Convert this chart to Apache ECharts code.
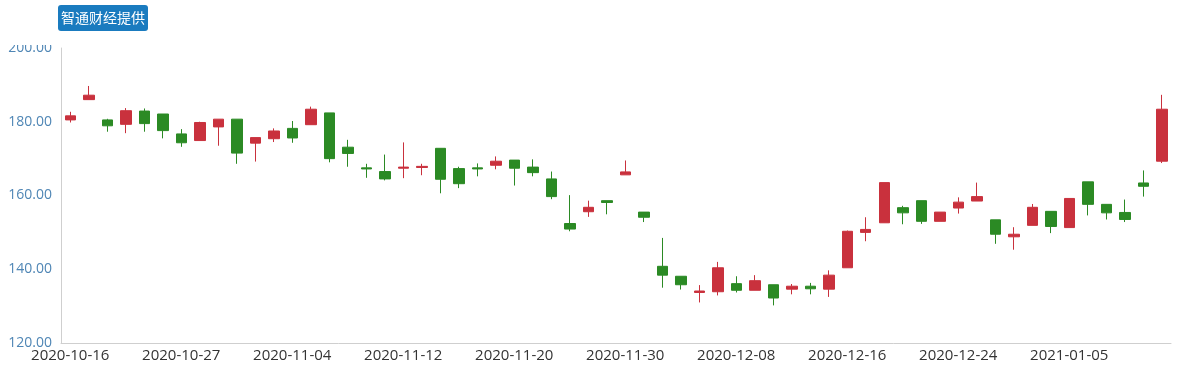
<!DOCTYPE html>
<html>
<head>
<meta charset="utf-8">
<script src="https://cdn.jsdelivr.net/npm/echarts@6/dist/echarts.min.js"></script>
<style>
html,body{margin:0;padding:0;background:#fff;}
#main{width:1183px;height:374px;}
</style>
</head>
<body>
<div id="main"></div>
<script>
var dates = ['2020-10-16','2020-10-19','2020-10-20','2020-10-21','2020-10-22','2020-10-23','2020-10-27','2020-10-28','2020-10-29','2020-10-30',
'2020-11-02','2020-11-03','2020-11-04','2020-11-05','2020-11-06','2020-11-09','2020-11-10','2020-11-11','2020-11-12','2020-11-13',
'2020-11-16','2020-11-17','2020-11-18','2020-11-19','2020-11-20','2020-11-23','2020-11-24','2020-11-25','2020-11-26','2020-11-27',
'2020-11-30','2020-12-01','2020-12-02','2020-12-03','2020-12-04','2020-12-07','2020-12-08','2020-12-09','2020-12-10','2020-12-11',
'2020-12-14','2020-12-15','2020-12-16','2020-12-17','2020-12-18','2020-12-21','2020-12-22','2020-12-23','2020-12-24','2020-12-28',
'2020-12-29','2020-12-30','2020-12-31','2021-01-04','2021-01-05','2021-01-06','2021-01-07','2021-01-08','2021-01-11','2021-01-12'];

var opens  = [180.5,186.0,180.5,179.3,182.9,182.1,176.7,174.9,178.6,180.7,
              174.2,175.4,178.2,179.2,182.4,173.1,167.5,166.5,167.4,167.6,
              172.8,167.3,167.5,168.2,169.6,167.7,164.5,152.4,155.6,158.6,
              165.6,155.5,140.8,138.1,133.7,133.9,136.1,134.3,135.8,134.6,
              135.4,134.6,140.4,150.0,152.6,156.7,158.6,153.0,156.6,158.5,
              153.4,148.8,151.9,155.7,151.3,163.7,157.6,155.4,163.4,169.3];
var closes = [181.6,187.2,178.9,183.0,179.5,177.6,174.3,179.8,180.7,171.5,
              175.7,177.5,175.6,183.4,170.0,171.4,167.2,164.5,167.7,167.9,
              164.4,163.2,167.2,169.3,167.4,166.2,159.7,150.9,156.8,158.1,
              166.4,154.1,138.4,135.8,134.1,140.4,134.3,136.9,132.2,135.4,
              134.7,138.4,150.3,150.8,163.5,155.3,153.0,155.5,158.2,159.7,
              149.5,149.5,156.8,151.6,159.2,157.6,155.3,153.5,162.5,183.4];
var lows   = [179.8,186.0,177.3,176.9,177.3,175.5,173.2,174.9,173.5,168.6,
              169.2,174.5,174.3,179.2,169.0,167.8,164.8,164.1,164.7,165.5,
              160.6,162.0,165.2,167.1,162.7,165.2,159.0,150.3,154.2,154.9,
              165.6,152.8,135.0,134.5,131.0,132.9,133.7,134.3,130.2,133.2,
              133.2,132.5,140.4,147.6,152.6,152.2,152.3,153.0,155.1,158.5,
              146.9,145.3,151.9,149.8,151.3,154.6,153.5,152.8,159.7,168.8];
var highs  = [182.7,189.7,180.8,183.7,183.6,182.1,178.0,180.0,180.7,180.7,
              175.7,178.2,180.2,184.1,182.4,175.1,168.6,171.1,174.4,168.6,
              172.8,167.8,168.7,170.6,169.6,169.8,166.5,160.1,158.6,158.6,
              169.5,155.5,148.5,138.1,135.7,142.0,138.1,138.4,135.8,136.0,
              136.3,139.7,150.5,154.1,163.5,157.2,158.6,155.5,159.5,163.5,
              153.4,151.4,157.7,155.7,159.2,163.7,157.6,158.9,166.8,187.3];

var yTicks = [120, 140, 160, 180, 200];
var badgeText = '智通财经提供';

var kData = dates.map(function (d, i) {
  return [opens[i], closes[i], lows[i], highs[i]];
});

var chart = echarts.init(document.getElementById('main'), null, {renderer: 'canvas'});
chart.setOption({
  animation: false,
  backgroundColor: '#fff',
  grid: {left: 61, right: 12, top: 48, bottom: 31, containLabel: false},
  xAxis: {
    type: 'category',
    data: dates,
    boundaryGap: true,
    axisLine: {show: true, lineStyle: {color: '#cfcfcf', width: 1}},
    axisTick: {show: false},
    splitLine: {show: false},
    axisLabel: {
      interval: 5,
      color: '#333',
      fontSize: 15,
      fontFamily: 'Open Sans',
      margin: 5
    }
  },
  yAxis: {
    type: 'value',
    min: yTicks[0],
    max: yTicks[yTicks.length - 1],
    interval: 20,
    scale: false,
    axisLine: {show: true, lineStyle: {color: '#cfcfcf', width: 1}},
    axisTick: {show: false},
    splitLine: {show: false},
    axisLabel: {
      color: '#4f86b5',
      fontSize: 14,
      fontFamily: 'Open Sans',
      margin: 9,
      formatter: function (v) { return v.toFixed(2); }
    }
  },
  series: [{
    type: 'candlestick',
    data: kData,
    barWidth: 11,
    itemStyle: {
      color: '#c9313d',
      color0: '#2b8a24',
      borderColor: '#c9313d',
      borderColor0: '#2b8a24',
      borderWidth: 1
    }
  }],
  graphic: [
    {
      type: 'rect',
      z: 100,
      shape: {x: 0, y: 0, width: 58, height: 45},
      style: {fill: '#fff'}
    },
    {
      type: 'group',
      z: 101,
      left: 58,
      top: 5,
      children: [
        {
          type: 'rect',
          shape: {x: 0, y: 0, width: 90, height: 26, r: 3},
          style: {fill: '#1a7bbf'}
        },
        {
          type: 'text',
          x: 45,
          y: 13,
          style: {
            text: badgeText,
            fill: '#fff',
            font: '14px "Noto Sans CJK SC"',
            align: 'center',
            verticalAlign: 'middle'
          }
        }
      ]
    }
  ]
});
</script>
</body>
</html>
